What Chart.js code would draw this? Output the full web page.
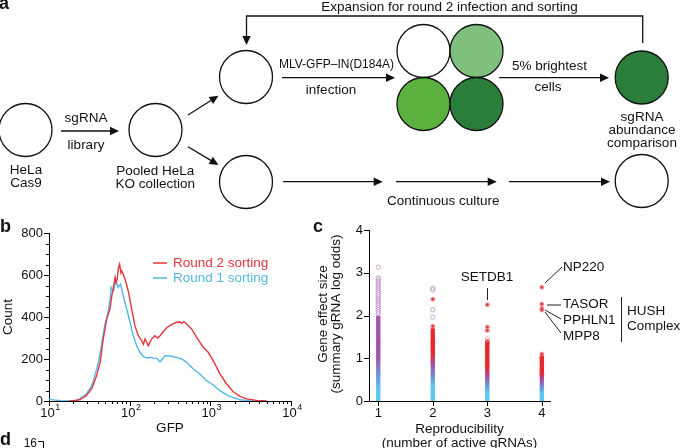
<!DOCTYPE html>
<html>
<head>
<meta charset="utf-8">
<script src="https://cdn.jsdelivr.net/npm/chart.js@4.4.1/dist/chart.umd.min.js"></script>
<style>
  body { margin: 0; background: #fff; width: 681px; height: 448px; overflow: hidden; position: relative; }
  canvas { position: absolute; }
  #schemeCanvas { left: 0; top: 0; }
  #histCanvas { left: 0; top: 212px; }
  #scatterCanvas { left: 310px; top: 212px; }
</style>
</head>
<body>
<canvas id="schemeCanvas" width="681" height="212"></canvas>
<canvas id="histCanvas" width="310" height="236"></canvas>
<canvas id="scatterCanvas" width="371" height="236"></canvas>
<script>
// ---- panel a: screen layout (cells) ----
const nodeX = [25.5, 155.5, 246, 246, 423.5, 476.5, 423.5, 476.5, 641.7, 641.7];
const nodeY = [130, 130, 77, 182, 51, 51, 104, 104, 77.5, 181];
const nodeFill = ['#fff', '#fff', '#fff', '#fff', '#fff', '#80c07f', '#5ab13f', '#2b7d3a', '#2b7d3a', '#fff'];

// ---- panel b: GFP histogram ----
const round2Gfp = [18, 20, 24, 29, 34, 39, 43, 47, 52, 57, 60, 63, 66, 68, 70, 73, 75, 78, 80, 88,
  96, 106, 116, 128, 141, 148, 155, 163, 170, 187, 206, 222, 238, 260, 288, 316, 348, 382, 421, 441,
  470, 508, 586, 676, 817, 942, 1086, 1315, 1592, 1923, 2328, 2818, 3750, 4990];
const round2Count = [0, 2, 6, 25, 60, 121, 184, 295, 390, 438, 500, 540, 589, 565, 581, 640, 652, 610, 619, 579,
  524, 438, 359, 311, 287, 270, 295, 280, 263, 295, 311, 300, 311, 330, 349, 359, 368, 375, 376, 370,
  378, 367, 343, 303, 256, 232, 192, 129, 81, 44, 22, 10, 3, 0];
const round1Gfp = [10, 12, 14, 18, 22, 24, 29, 34, 37, 41, 45, 49, 54, 57, 59, 61, 63, 66, 68, 70,
  72, 75, 77, 83, 92, 101, 111, 122, 134, 148, 165, 179, 198, 216, 238, 255, 274, 316, 382, 441,
  508, 615, 743, 899, 1086, 1315, 1592, 1923, 2328, 3090, 4111, 5000];
const round1Count = [8, 4, 1, 0, 2, 10, 33, 73, 121, 184, 271, 359, 422, 480, 541, 530, 525, 560, 573, 555,
  541, 550, 557, 501, 438, 375, 311, 263, 232, 211, 205, 208, 204, 203, 187, 200, 216, 214, 208, 200,
  184, 152, 129, 97, 76, 49, 29, 16, 6, 2, 0, 0];
const countTicks = [0, 200, 400, 600, 800];
const gfpDecades = [10, 100, 1000, 10000];

// ---- panel c: gene effect size by reproducibility ----
const reproCats = [1, 2, 3, 4];
const strip1 = [0, 0.05, 0.1, 0.15, 0.2, 0.25, 0.3, 0.35, 0.4, 0.45, 0.5, 0.55, 0.6, 0.65, 0.7, 0.75, 0.8, 0.85, 0.9, 0.95,
  1, 1.05, 1.1, 1.15, 1.2, 1.25, 1.3, 1.35, 1.4, 1.45, 1.5, 1.55, 1.6, 1.65, 1.7, 1.75, 1.8, 1.85, 1.9, 1.96];
const strip2 = [0, 0.05, 0.1, 0.15, 0.2, 0.25, 0.3, 0.35, 0.4, 0.45, 0.5, 0.55, 0.6, 0.65, 0.7, 0.75, 0.8, 0.85, 0.9, 0.95,
  1, 1.05, 1.1, 1.15, 1.2, 1.25, 1.3, 1.35, 1.4, 1.45, 1.5, 1.55, 1.6, 1.66];
const strip3 = [0, 0.05, 0.1, 0.15, 0.2, 0.25, 0.3, 0.35, 0.4, 0.45, 0.5, 0.55, 0.6, 0.65, 0.7, 0.75, 0.8, 0.85, 0.9, 0.95,
  1, 1.05, 1.1, 1.15, 1.2, 1.25, 1.3, 1.35, 1.39];
const strip4 = [0, 0.05, 0.1, 0.15, 0.2, 0.25, 0.3, 0.35, 0.4, 0.45, 0.5, 0.55, 0.6, 0.65, 0.7, 0.75, 0.8, 0.85, 0.9, 0.95,
  1.0, 1.03];
const rings1 = [3.13, 2.88, 2.84, 2.79, 2.74, 2.69, 2.64, 2.59, 2.54, 2.49, 2.44, 2.39, 2.34, 2.29, 2.24, 2.19, 2.14, 2.09, 2.04];
const rings2 = [2.64, 2.60, 2.14, 1.96];
const rings3 = [1.45];
const hits2 = [2.38, 1.75];
const hits3 = [2.25, 1.73, 1.65];
const hits4 = [2.66, 2.27, 2.17, 2.13, 1.10];
const effectTicks = [0, 1, 2, 3, 4];

const FONT = "'Liberation Sans', Arial, Helvetica, sans-serif";
const RED = '#e2363e';
const BLUE = '#53b8e4';
Chart.defaults.font.family = FONT;
Chart.defaults.font.size = 13;
Chart.defaults.color = '#111';

// arrows of the scheme: [x1, y1, x2, y2], head at the second point
const arrows = [
  [61, 131, 119, 131],
  [188, 115, 218.5, 95.7],
  [188, 146.7, 218.5, 165],
  [282, 77.7, 395, 77.7],
  [499, 77.7, 609, 77.7],
  [283, 181.7, 382.7, 181.7],
  [396, 181.7, 496.7, 181.7],
  [509, 181.7, 610, 181.7]
];
const feedbackPath = [[642.7, 43], [642.7, 16], [246.5, 16], [246.5, 45]];
const schemeLabels = [
  ['Expansion for round 2 infection and sorting', 449.5, 7],
  ['sgRNA', 86, 118], ['library', 86, 145],
  ['MLV-GFP\u2013IN(D184A)', 336.5, 65, 12], ['infection', 331, 90],
  ['5% brightest', 549.5, 66.7], ['cells', 548, 87.3],
  ['HeLa', 26, 170], ['Cas9', 26, 183.3],
  ['Pooled HeLa', 155.3, 171.7], ['KO collection', 155.3, 184.3],
  ['sgRNA', 642, 117.3], ['abundance', 642, 130], ['comparison', 642, 143.3],
  ['Continuous culture', 443.3, 201.7]
];

function drawArrow(ctx, pts) {
  const n = pts.length;
  const [xa, ya] = pts[n - 2], [xb, yb] = pts[n - 1];
  const ang = Math.atan2(yb - ya, xb - xa);
  const len = 9, half = 4.2;
  ctx.beginPath();
  ctx.moveTo(pts[0][0], pts[0][1]);
  for (let i = 1; i < n - 1; i++) ctx.lineTo(pts[i][0], pts[i][1]);
  ctx.lineTo(xb - Math.cos(ang) * (len - 1), yb - Math.sin(ang) * (len - 1));
  ctx.stroke();
  ctx.beginPath();
  ctx.moveTo(xb, yb);
  ctx.lineTo(xb - Math.cos(ang) * len - Math.sin(ang) * half, yb - Math.sin(ang) * len + Math.cos(ang) * half);
  ctx.lineTo(xb - Math.cos(ang) * len + Math.sin(ang) * half, yb - Math.sin(ang) * len - Math.cos(ang) * half);
  ctx.closePath();
  ctx.fill();
}

const schemeDecor = {
  id: 'schemeDecor',
  beforeDatasetsDraw(chart) {
    const ctx = chart.ctx;
    const sx = v => chart.scales.x.getPixelForValue(v);
    const sy = v => chart.scales.y.getPixelForValue(v);
    ctx.save();
    ctx.strokeStyle = '#111';
    ctx.fillStyle = '#111';
    ctx.lineWidth = 1.3;
    arrows.forEach(a => drawArrow(ctx, [[sx(a[0]), sy(a[1])], [sx(a[2]), sy(a[3])]]));
    drawArrow(ctx, feedbackPath.map(p => [sx(p[0]), sy(p[1])]));
    ctx.textAlign = 'center';
    ctx.textBaseline = 'middle';
    schemeLabels.forEach(l => {
      ctx.font = (l[3] || 13.5) + 'px ' + FONT;
      ctx.fillText(l[0], sx(l[1]), sy(l[2]));
    });
    ctx.font = 'bold 18px ' + FONT;
    ctx.textAlign = 'left';
    ctx.textBaseline = 'alphabetic';
    ctx.fillText('a', -1, 9);
    ctx.restore();
  }
};

new Chart(document.getElementById('schemeCanvas'), {
  type: 'scatter',
  data: {
    datasets: [{
      data: nodeX.map((x, i) => ({ x: x, y: nodeY[i] })),
      pointRadius: 26.5,
      borderWidth: 1.3,
      borderColor: '#111',
      backgroundColor: nodeFill,
      clip: false
    }]
  },
  options: {
    responsive: false, animation: false, events: [],
    layout: { padding: 0, autoPadding: false },
    plugins: { legend: { display: false }, tooltip: { enabled: false } },
    scales: {
      x: { type: 'linear', min: 0, max: 681, display: false },
      y: { type: 'linear', min: 0, max: 212, reverse: true, display: false }
    }
  },
  plugins: [schemeDecor]
});

// tick marks outside the axes, major and minor
function drawTickMarks(chart, spec) {
  const ctx = chart.ctx, area = chart.chartArea;
  ctx.save();
  ctx.strokeStyle = '#000';
  ctx.lineWidth = 1;
  ctx.beginPath();
  ['major', 'minor'].forEach(kind => {
    const len = kind === 'major' ? 5 : 3;
    (spec.x[kind] || []).forEach(v => {
      const px = Math.round(chart.scales.x.getPixelForValue(v)) + 0.5;
      ctx.moveTo(px, area.bottom); ctx.lineTo(px, area.bottom + len);
    });
    (spec.y[kind] || []).forEach(v => {
      const py = Math.round(chart.scales.y.getPixelForValue(v)) + 0.5;
      ctx.moveTo(area.left, py); ctx.lineTo(area.left - len, py);
    });
  });
  ctx.stroke();
  ctx.restore();
}

const countMinor = [];
for (let v = 50; v < 800; v += 50) if (v % 200) countMinor.push(v);
const gfpMinor = [];
gfpDecades.slice(0, 3).forEach(d => { for (let k = 2; k <= 9; k++) gfpMinor.push(d * k); });

const histDecor = {
  id: 'histDecor',
  afterDraw(chart) {
    const ctx = chart.ctx, area = chart.chartArea;
    drawTickMarks(chart, { x: { major: gfpDecades, minor: gfpMinor }, y: { major: countTicks, minor: countMinor } });
    ctx.save();
    ctx.fillStyle = '#111';
    // decade labels with superscript exponents
    gfpDecades.forEach(d => {
      const px = chart.scales.x.getPixelForValue(d);
      const exp = String(Math.round(Math.log10(d)));
      ctx.font = '13px ' + FONT;
      const wBase = ctx.measureText('10').width;
      ctx.font = '9px ' + FONT;
      const wExp = ctx.measureText(exp).width;
      const left = px - (wBase + wExp) / 2 + 1;
      ctx.textAlign = 'left';
      ctx.textBaseline = 'middle';
      ctx.font = '13px ' + FONT;
      ctx.fillText('10', left, area.bottom + 12);
      ctx.font = '9px ' + FONT;
      ctx.fillText(exp, left + wBase + 0.5, area.bottom + 7);
    });
    ctx.font = '13.5px ' + FONT;
    ctx.textAlign = 'center';
    ctx.fillText('GFP', (area.left + area.right) / 2, 216);
    ctx.save();
    ctx.translate(8, (area.top + area.bottom) / 2);
    ctx.rotate(-Math.PI / 2);
    ctx.fillText('Count', 0, 0);
    ctx.restore();
    // legend
    const legend = [['Round 2 sorting', RED, 51], ['Round 1 sorting', BLUE, 66]];
    legend.forEach(([txt, col, y]) => {
      ctx.strokeStyle = col;
      ctx.lineWidth = 1.5;
      ctx.beginPath(); ctx.moveTo(153, y); ctx.lineTo(167, y); ctx.stroke();
      ctx.fillStyle = col;
      ctx.font = '13.5px ' + FONT;
      ctx.textAlign = 'left';
      ctx.fillText(txt, 173, y);
    });
    // panel letters
    ctx.fillStyle = '#111';
    ctx.font = 'bold 18px ' + FONT;
    ctx.textBaseline = 'alphabetic';
    ctx.fillText('b', 0, 20);
    ctx.fillText('d', 0, 233);
    ctx.font = '12px ' + FONT;
    ctx.textAlign = 'right';
    ctx.fillText('16', 37, 235);
    ctx.strokeStyle = '#000';
    ctx.lineWidth = 1;
    ctx.beginPath(); ctx.moveTo(38, 229.5); ctx.lineTo(43.5, 229.5); ctx.lineTo(43.5, 236); ctx.stroke();
    ctx.restore();
  }
};

new Chart(document.getElementById('histCanvas'), {
  type: 'line',
  data: {
    datasets: [
      { label: 'Round 2 sorting', data: round2Gfp.map((g, i) => ({ x: g, y: round2Count[i] })),
        borderColor: RED, borderWidth: 1.4, pointRadius: 0, fill: false, tension: 0 },
      { label: 'Round 1 sorting', data: round1Gfp.map((g, i) => ({ x: g, y: round1Count[i] })),
        borderColor: BLUE, borderWidth: 1.4, pointRadius: 0, fill: false, tension: 0 }
    ]
  },
  options: {
    responsive: false, animation: false, events: [],
    layout: { padding: { left: 0, top: 21, right: 19, bottom: 0 }, autoPadding: false },
    plugins: { legend: { display: false }, tooltip: { enabled: false } },
    scales: {
      x: { type: 'logarithmic', min: 10, max: 10000,
        grid: { display: false, drawTicks: false }, border: { color: '#000', width: 1 },
        ticks: { display: false }, afterFit: s => { s.height = 47; } },
      y: { type: 'linear', min: 0, max: 800,
        grid: { display: false, drawTicks: false }, border: { color: '#000', width: 1 },
        afterBuildTicks: s => { s.ticks = countTicks.map(v => ({ value: v })); },
        ticks: { padding: 6, font: { size: 13 }, color: '#111' },
        afterFit: s => { s.width = 49; } }
    }
  },
  plugins: [histDecor]
});

// colour of the dense strips, cyan -> blue -> purple -> red, per column
const STRIP_RGB = [[92, 200, 238], [112, 146, 214], [162, 84, 170], [230, 40, 48]];
const stripStops = [[0.25, 0.65, 1.05, null], [0.35, 0.6, 0.85, 1.12], [0.2, 0.4, 0.58, 0.78], [0.2, 0.35, 0.5, 0.68]];
function rgb(c) { return 'rgb(' + c.map(Math.round).join(',') + ')'; }
function stripColor(col, v) {
  const s = stripStops[col - 1];
  if (v <= s[0]) return rgb(STRIP_RGB[0]);
  for (let i = 0; i < 3; i++) {
    if (s[i + 1] === null) return rgb(STRIP_RGB[i]);
    if (v <= s[i + 1]) {
      const t = (v - s[i]) / (s[i + 1] - s[i]);
      return rgb(STRIP_RGB[i].map((c, k) => c + (STRIP_RGB[i + 1][k] - c) * t));
    }
  }
  return rgb(STRIP_RGB[3]);
}

const toPts = (col, arr) => arr.map(v => ({ x: col, y: v }));
const densePts = [].concat(toPts(1, strip1), toPts(2, strip2), toPts(3, strip3), toPts(4, strip4));
const ringPts = [].concat(toPts(1, rings1), toPts(2, rings2), toPts(3, rings3));
const hitPts = [].concat(toPts(2, hits2), toPts(3, hits3), toPts(4, hits4));

const scatterDecor = {
  id: 'scatterDecor',
  afterDraw(chart) {
    const ctx = chart.ctx, area = chart.chartArea;
    drawTickMarks(chart, { x: { major: reproCats }, y: { major: effectTicks } });
    ctx.save();
    ctx.fillStyle = '#111';
    ctx.font = '13.5px ' + FONT;
    ctx.textAlign = 'center';
    ctx.textBaseline = 'middle';
    const cx = (area.left + area.right) / 2;
    ctx.fillText('Reproducibility', cx, 217);
    ctx.fillText('(number of active gRNAs)', cx, 231);
    ctx.save();
    ctx.translate(0, 102);
    ctx.rotate(-Math.PI / 2);
    ctx.fillText('Gene effect size', 0, 13);
    ctx.fillText('(summary gRNA log odds)', 0, 26.5);
    ctx.restore();
    // gene annotations
    ctx.strokeStyle = '#222';
    ctx.lineWidth = 1;
    const seg = (a, b, c, d) => { ctx.beginPath(); ctx.moveTo(a, b); ctx.lineTo(c, d); ctx.stroke(); };
    ctx.fillText('SETDB1', 177, 65);
    seg(177.5, 76, 177.5, 88);
    seg(235, 71, 252, 55);
    seg(237, 93, 251, 93);
    seg(235, 98, 251, 107);
    seg(235, 100, 251, 121);
    seg(311.5, 85, 311.5, 130);
    ctx.textAlign = 'left';
    ctx.fillText('NP220', 253, 55);
    ctx.fillText('TASOR', 253, 92.5);
    ctx.fillText('PPHLN1', 253, 108);
    ctx.fillText('MPP8', 253, 124);
    ctx.fillText('HUSH', 317, 99);
    ctx.fillText('Complex', 317, 114);
    ctx.font = 'bold 18px ' + FONT;
    ctx.textBaseline = 'alphabetic';
    ctx.fillText('c', 3, 20);
    ctx.restore();
  }
};

new Chart(document.getElementById('scatterCanvas'), {
  type: 'scatter',
  data: {
    datasets: [
      { data: hitPts, pointRadius: 1.7, borderWidth: 1.6,
        backgroundColor: '#e3303a', borderColor: 'rgba(238,120,132,0.55)' },
      { data: ringPts, pointRadius: 2.2, borderWidth: 0.9, backgroundColor: 'rgba(255,255,255,0)',
        borderColor: c => (c.raw && c.raw.x === 3) ? '#e69aa6' : '#c69bd2' },
      { data: densePts, pointRadius: 2.3, borderWidth: 0,
        backgroundColor: c => c.raw ? stripColor(c.raw.x, c.raw.y) : '#888' }
    ]
  },
  options: {
    responsive: false, animation: false, events: [],
    layout: { padding: { left: 0, top: 18, right: 131, bottom: 0 }, autoPadding: false },
    plugins: { legend: { display: false }, tooltip: { enabled: false } },
    scales: {
      x: { type: 'linear', min: 0.83, max: 4.15,
        grid: { display: false, drawTicks: false }, border: { color: '#000', width: 1 },
        afterBuildTicks: s => { s.ticks = reproCats.map(v => ({ value: v })); },
        ticks: { padding: 5, font: { size: 13 }, color: '#111' },
        afterFit: s => { s.height = 47; } },
      y: { type: 'linear', min: 0, max: 4,
        grid: { display: false, drawTicks: false }, border: { color: '#000', width: 1 },
        afterBuildTicks: s => { s.ticks = effectTicks.map(v => ({ value: v })); },
        ticks: { padding: 6, font: { size: 13 }, color: '#111' },
        afterFit: s => { s.width = 59; } }
    }
  },
  plugins: [scatterDecor]
});
</script>
</body>
</html>
